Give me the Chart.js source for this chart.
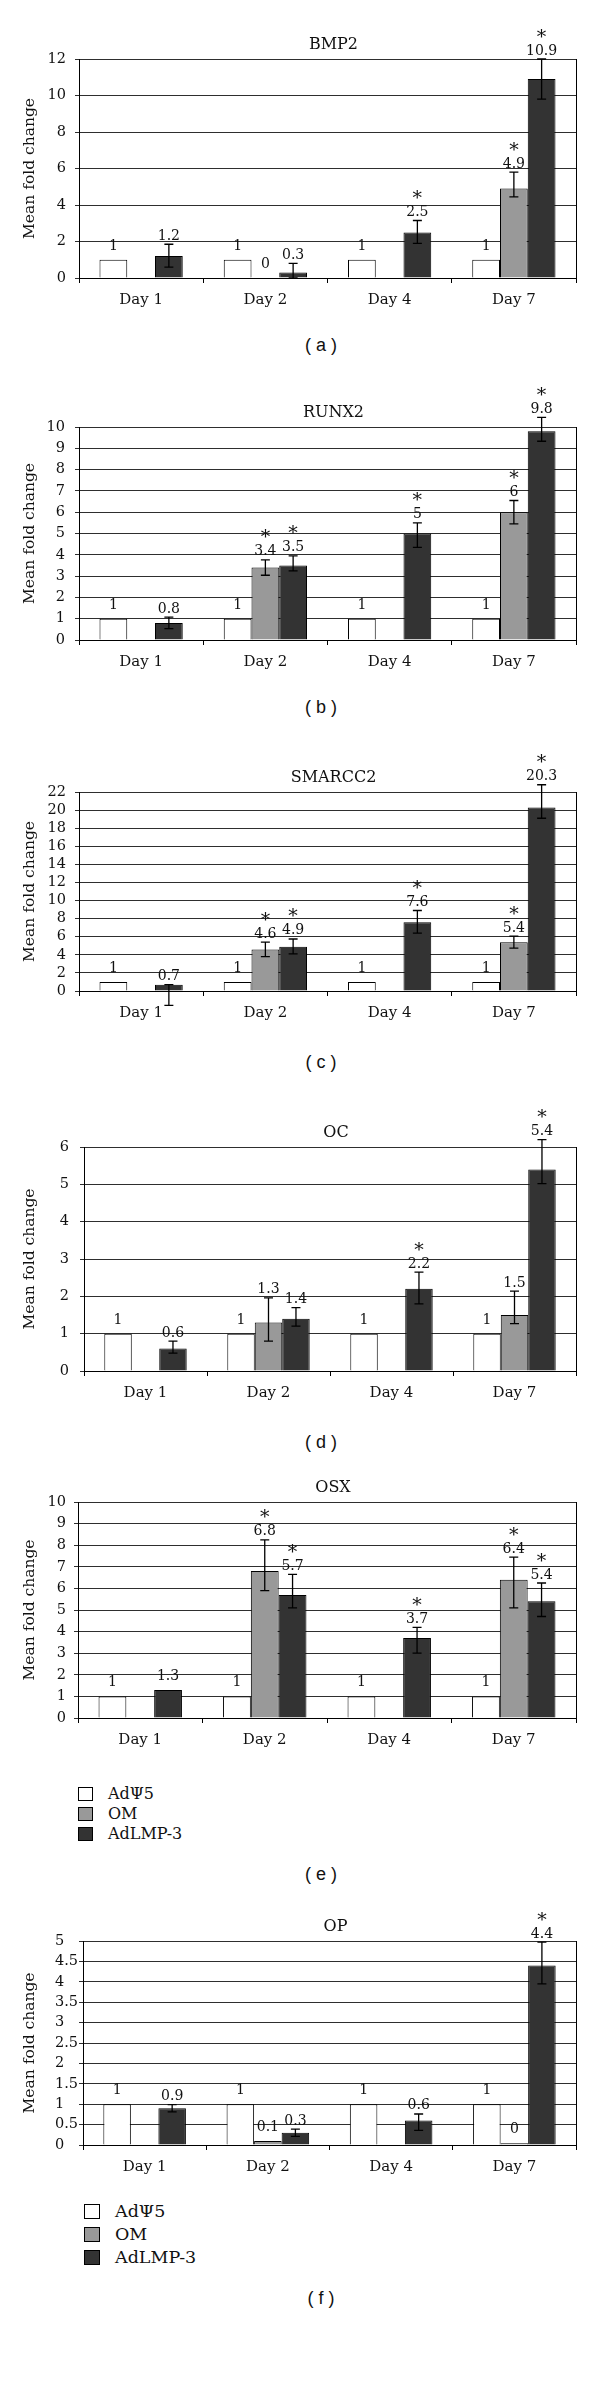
<!DOCTYPE html>
<html><head><meta charset="utf-8">
<script src="https://cdn.jsdelivr.net/npm/chart.js@4.4.1/dist/chart.umd.min.js"></script>
<style>
 body{margin:0;background:#fff;}
 #page{position:relative;width:600px;height:2385px;overflow:hidden;background:#fff;}
 canvas{position:absolute;left:0;}
 .plabel{position:absolute;left:0;width:642px;text-align:center;font:18px "Liberation Sans",Arial,sans-serif;color:#111;line-height:20px;height:20px;}
 .leg{position:absolute;font-family:"DejaVu Serif",serif;color:#111;white-space:nowrap;}
 .leg .box{position:absolute;border:1px solid #000;box-sizing:border-box;}
 .leg .txt{position:absolute;}
</style>
</head><body><div id="page"></div>
<script>
// ---- data ----
const categories = ['Day 1', 'Day 2', 'Day 4', 'Day 7'];
const seriesNames = ['AdΨ5', 'OM', 'AdLMP-3'];
const panelTitles = ['BMP2', 'RUNX2', 'SMARCC2', 'OC', 'OSX', 'OP'];
const panelLetters = ['( a )', '( b )', '( c )', '( d )', '( e )', '( f )'];

// BMP2
const bmp2Ad5 = [1, 1, 1, 1];
const bmp2OM = [null, 0, null, 4.9];
const bmp2LMP = [1.2, 0.3, 2.5, 10.9];
const bmp2OMErr = [null, null, null, [0.45, 0.9]];
const bmp2LMPErr = [[0.6, 0.65], [0.3, 0.5], [0.6, 0.65], [1.1, 1.1]];
const bmp2OMStar = [0, 0, 0, 1];
const bmp2LMPStar = [0, 0, 1, 1];
const bmp2Ticks = [0, 2, 4, 6, 8, 10, 12];

// RUNX2
const runx2Ad5 = [1, 1, 1, 1];
const runx2OM = [null, 3.4, null, 6];
const runx2LMP = [0.8, 3.5, 5, 9.8];
const runx2OMErr = [null, [0.36, 0.36], null, [0.55, 0.55]];
const runx2LMPErr = [[0.27, 0.27], [0.25, 0.45], [0.65, 0.5], [0.47, 0.65]];
const runx2OMStar = [0, 1, 0, 1];
const runx2LMPStar = [0, 1, 1, 1];
const runx2Ticks = [0, 1, 2, 3, 4, 5, 6, 7, 8, 9, 10];

// SMARCC2
const smarcc2Ad5 = [1, 1, 1, 1];
const smarcc2OM = [null, 4.6, null, 5.4];
const smarcc2LMP = [0.7, 4.9, 7.6, 20.3];
const smarcc2OMErr = [null, [0.8, 0.8], null, [0.67, 0.67]];
const smarcc2LMPErr = [[2.3, 0], [0.8, 0.85], [1.2, 1.3], [1.2, 2.5]];
const smarcc2OMStar = [0, 1, 0, 1];
const smarcc2LMPStar = [0, 1, 1, 1];
const smarcc2Ticks = [0, 2, 4, 6, 8, 10, 12, 14, 16, 18, 20, 22];

// OC
const ocAd5 = [1, 1, 1, 1];
const ocOM = [null, 1.3, null, 1.5];
const ocLMP = [0.6, 1.4, 2.2, 5.4];
const ocOMErr = [null, [0.5, 0.66], null, [0.23, 0.64]];
const ocLMPErr = [[0.12, 0.2], [0.2, 0.3], [0.4, 0.45], [0.38, 0.8]];
const ocOMStar = [0, 0, 0, 0];
const ocLMPStar = [0, 0, 1, 1];
const ocTicks = [0, 1, 2, 3, 4, 5, 6];

// OSX
const osxAd5 = [1, 1, 1, 1];
const osxOM = [null, 6.8, null, 6.4];
const osxLMP = [1.3, 5.7, 3.7, 5.4];
const osxOMErr = [null, [0.9, 1.45], null, [1.3, 1.05]];
const osxLMPErr = [null, [0.6, 0.95], [0.7, 0.5], [0.7, 0.85]];
const osxOMStar = [0, 1, 0, 1];
const osxLMPStar = [0, 1, 1, 1];
const osxTicks = [0, 1, 2, 3, 4, 5, 6, 7, 8, 9, 10];

// OP
const opAd5 = [1, 1, 1, 1];
const opOM = [null, 0.1, null, 0.04];
const opLMP = [0.9, 0.3, 0.6, 4.4];
const opOMErr = [null, null, null, null];
const opLMPErr = [[0.09, 0.09], [0.09, 0.09], [0.24, 0.16], [0.45, 0.57]];
const opOMStar = [0, 0, 0, 0];
const opLMPStar = [0, 0, 0, 1];
const opTicks = [0, 0.5, 1, 1.5, 2, 2.5, 3, 3.5, 4, 4.5, 5];

// ---- assemble ----
const panelData = [
  [bmp2Ad5, bmp2OM, bmp2LMP, bmp2OMErr, bmp2LMPErr, bmp2OMStar, bmp2LMPStar, bmp2Ticks],
  [runx2Ad5, runx2OM, runx2LMP, runx2OMErr, runx2LMPErr, runx2OMStar, runx2LMPStar, runx2Ticks],
  [smarcc2Ad5, smarcc2OM, smarcc2LMP, smarcc2OMErr, smarcc2LMPErr, smarcc2OMStar, smarcc2LMPStar, smarcc2Ticks],
  [ocAd5, ocOM, ocLMP, ocOMErr, ocLMPErr, ocOMStar, ocLMPStar, ocTicks],
  [osxAd5, osxOM, osxLMP, osxOMErr, osxLMPErr, osxOMStar, osxLMPStar, osxTicks],
  [opAd5, opOM, opLMP, opOMErr, opLMPErr, opOMStar, opLMPStar, opTicks]
];

// layout (page pixels)
const layouts = [
  {top: 0,    plotTop: 59,   plotBottom: 278,  left: 79, letterY: 345,  tickPad: 9},
  {top: 370,  plotTop: 427,  plotBottom: 640,  left: 79, letterY: 707,  tickPad: 10},
  {top: 730,  plotTop: 792,  plotBottom: 991,  left: 79, letterY: 1062, tickPad: 9},
  {top: 1090, plotTop: 1147, plotBottom: 1371, left: 84, letterY: 1442, tickPad: 11},
  {top: 1460, plotTop: 1502, plotBottom: 1718, left: 78, letterY: 1874, tickPad: 8},
  {top: 1890, plotTop: 1941, plotBottom: 2145, left: 83, letterY: 2298, tickPad: 1}
];
const PLOT_RIGHT = 576;
const XAXIS_H = 40;
const SERIF = '"DejaVu Serif", serif';
const fills = ['#ffffff', '#999999', '#333333'];
const ink = '#111111';

// decimal-aligned tick text (integers padded by the width of ".5")
function tickText(v, ticks) {
  const hasDec = ticks.some(t => !Number.isInteger(t));
  if (hasDec && Number.isInteger(v)) return String(v) + '\u2008\u2007';
  return String(v);
}

const annotPlugin = {
  id: 'annot',
  afterDatasetsDraw(chart, args, opts) {
    const ctx = chart.ctx;
    const y = chart.scales.y;
    const a = chart.chartArea;
    ctx.save();
    ctx.strokeStyle = '#000';
    ctx.lineWidth = 1;
    const rx = Math.round(a.right) + 0.5;
    ctx.beginPath(); ctx.moveTo(rx, a.top); ctx.lineTo(rx, a.bottom); ctx.stroke();
    chart.data.datasets.forEach((ds, di) => {
      const meta = chart.getDatasetMeta(di);
      ds.data.forEach((v, i) => {
        if (v === null || v === undefined) return;
        const x = meta.data[i].x;
        const err = ds.err ? ds.err[i] : null;
        let base;
        if (err) {
          const yLo = y.getPixelForValue(v - err[0]);
          const yHi = y.getPixelForValue(v + err[1]);
          ctx.strokeStyle = '#000';
          ctx.lineWidth = 1.3;
          ctx.beginPath();
          ctx.moveTo(x, yLo); ctx.lineTo(x, yHi);
          ctx.moveTo(x - 4.5, yHi); ctx.lineTo(x + 4.5, yHi);
          ctx.moveTo(x - 4.5, yLo); ctx.lineTo(x + 4.5, yLo);
          ctx.stroke();
          base = yHi - 4.5;
        } else {
          base = y.getPixelForValue(v) - 10;
        }
        ctx.fillStyle = ink;
        ctx.textAlign = 'center';
        ctx.textBaseline = 'alphabetic';
        ctx.font = '14px ' + SERIF;
        ctx.fillText(String(Math.round(v * 10) / 10), x, base);
        if (ds.stars && ds.stars[i]) {
          ctx.font = '19px ' + SERIF;
          ctx.fillText('*', x, base - 12);
        }
      });
    });
    ctx.fillStyle = ink;
    ctx.font = '16px ' + SERIF;
    ctx.textAlign = 'center';
    ctx.textBaseline = 'alphabetic';
    ctx.fillText(opts.title, (a.left + a.right) / 2 + 6, a.top - 10);
    ctx.restore();
  }
};

const page = document.getElementById('page');

panelData.forEach((pd, k) => {
  const [ad5, om, lmp, omErr, lmpErr, omStar, lmpStar, ticks] = pd;
  const L = layouts[k];
  const h = L.plotBottom - L.top + XAXIS_H;
  const cv = document.createElement('canvas');
  cv.width = 600; cv.height = h;
  cv.style.top = L.top + 'px';
  cv.style.width = '600px'; cv.style.height = h + 'px';
  page.appendChild(cv);

  new Chart(cv, {
    type: 'bar',
    data: {
      labels: categories,
      datasets: [
        {label: seriesNames[0], data: ad5, backgroundColor: fills[0], borderColor: '#000', borderWidth: 1},
        {label: seriesNames[1], data: om, err: omErr, stars: omStar, backgroundColor: fills[1], borderColor: '#000', borderWidth: 1},
        {label: seriesNames[2], data: lmp, err: lmpErr, stars: lmpStar, backgroundColor: fills[2], borderColor: '#000', borderWidth: 1}
      ]
    },
    options: {
      responsive: false,
      animation: false,
      devicePixelRatio: 1,
      categoryPercentage: 0.67,
      barPercentage: 1.0,
      layout: {padding: {top: L.plotTop - L.top, right: 600 - PLOT_RIGHT, bottom: 0, left: 0}},
      plugins: {
        legend: {display: false},
        tooltip: {enabled: false},
        title: {display: false},
        annot: {title: panelTitles[k]}
      },
      scales: {
        x: {
          offset: true,
          grid: {display: true, offset: true, drawOnChartArea: false, drawTicks: true, tickLength: 5, color: '#000'},
          border: {display: true, color: '#000', width: 1},
          ticks: {color: ink, font: {family: SERIF, size: 15}, padding: 8, maxRotation: 0, autoSkip: false},
          afterFit: s => { s.height = XAXIS_H; }
        },
        y: {
          min: ticks[0],
          max: ticks[ticks.length - 1],
          afterBuildTicks: s => { s.ticks = ticks.map(v => ({value: v})); },
          grid: {color: '#2e2e2e', lineWidth: 1, tickLength: 4, drawTicks: true},
          border: {display: true, color: '#000', width: 1},
          ticks: {color: ink, font: {family: SERIF, size: 14.5}, padding: L.tickPad, autoSkip: false,
                  callback: v => tickText(v, ticks)},
          title: {display: true, text: 'Mean fold change', color: ink, font: {family: SERIF, size: 15.5}, padding: {top: 21, bottom: 0}},
          afterFit: s => { s.width = L.left; }
        }
      }
    },
    plugins: [annotPlugin]
  });

  const lab = document.createElement('div');
  lab.className = 'plabel';
  lab.style.top = (L.letterY - 10) + 'px';
  lab.textContent = panelLetters[k];
  page.appendChild(lab);
});

// legends for panels (e) and (f)
function addLegend(x, rows, box, textX, fontSize) {
  rows.forEach((cy, i) => {
    const d = document.createElement('div');
    d.className = 'leg';
    d.style.left = '0px'; d.style.top = '0px';
    const b = document.createElement('div');
    b.className = 'box';
    b.style.left = x + 'px';
    b.style.top = (cy - box[1] / 2) + 'px';
    b.style.width = box[0] + 'px';
    b.style.height = box[1] + 'px';
    b.style.background = fills[i];
    const t = document.createElement('div');
    t.className = 'txt';
    t.style.left = textX + 'px';
    t.style.top = (cy - fontSize * 0.6) + 'px';
    t.style.fontSize = fontSize + 'px';
    t.style.lineHeight = (fontSize * 1.2) + 'px';
    t.textContent = seriesNames[i];
    d.appendChild(b); d.appendChild(t);
    page.appendChild(d);
  });
}
addLegend(78, [1794, 1814, 1834], [15, 14], 108, 16);
addLegend(84, [2211, 2234, 2257], [16, 15], 115, 17.5);
</script>
</body></html>
